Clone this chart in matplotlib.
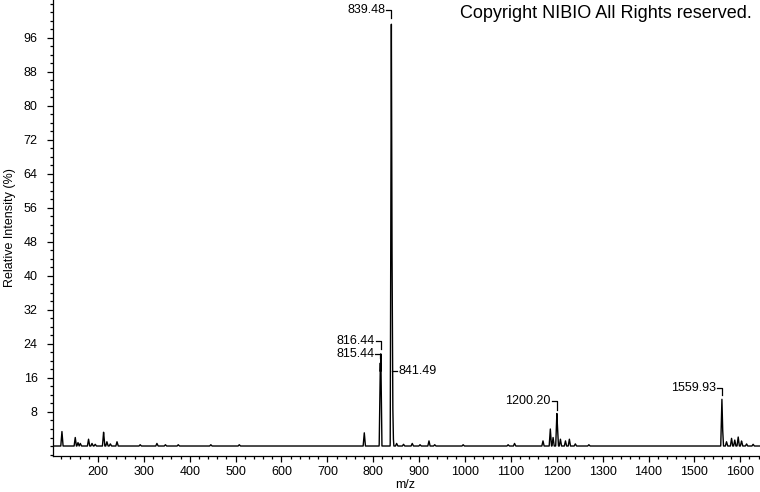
import matplotlib
matplotlib.use("Agg")
import matplotlib.pyplot as plt
import numpy as np

plt.rcParams['font.family'] = ['Liberation Sans', 'DejaVu Sans']

# peak list (m/z, relative intensity %)
peak_mz = [121.5, 150.5, 156.5, 161.5, 179.5, 187, 194, 212.3, 219.5, 227, 241.5,
           292, 328.5, 347, 375, 446, 508,
           780.5, 815.44, 816.44, 839.48, 840.48, 841.49, 842.5,
           851, 866, 885, 902, 921.5, 934, 996, 1094, 1108,
           1170, 1186, 1192, 1200.20, 1201.2, 1208, 1219, 1227.5, 1240.5, 1270,
           1559.93, 1560.9, 1570, 1581, 1588, 1595.4, 1602.8, 1613.7, 1628]
peak_int = [3.4, 2.0, 0.8, 0.6, 1.6, 0.6, 0.4, 3.3, 1.0, 0.5, 1.0,
            0.3, 0.6, 0.3, 0.3, 0.3, 0.3,
            3.1, 20.0, 22.2, 100.0, 57.0, 17.5, 4.0,
            0.6, 0.4, 0.6, 0.3, 1.2, 0.3, 0.3, 0.3, 0.6,
            1.2, 4.0, 2.0, 7.8, 5.4, 1.6, 1.2, 1.6, 0.5, 0.3,
            11.3, 5.5, 1.0, 1.8, 1.4, 2.2, 1.2, 0.5, 0.4]

# labelled peaks: text, m/z, peak height, label height, side
label_txt = ['839.48', '816.44', '815.44', '841.49', '1200.20', '1559.93']
label_mz = [839.48, 816.44, 815.44, 841.49, 1200.20, 1559.93]
label_top = [100.0, 22.2, 20.0, 17.5, 7.8, 11.3]
label_y = [102.6, 24.7, 21.6, 17.6, 10.6, 13.6]
label_side = ['left', 'left', 'left', 'right', 'left', 'left']

x_min, x_max = 102, 1643

# build a stick-like profile from the peak list
grid = np.arange(x_min, x_max, 0.25)
profile = np.zeros_like(grid)
half_w = 2.5
for m, h in zip(peak_mz, peak_int):
    tri = h * np.clip(1 - np.abs(grid - m) / half_w, 0, None)
    profile = np.maximum(profile, tri)

fig = plt.figure(figsize=(7.6, 4.92), dpi=100)
ax = fig.add_axes([53 / 760, 36 / 492, 707 / 760, 456 / 492])

ax.plot(grid, profile, color='black', lw=1.0)

for txt, m, top, ly, side in zip(label_txt, label_mz, label_top, label_y, label_side):
    if side == 'left':
        ax.plot([m - 11, m, m], [ly, ly, top + 0.7], color='black', lw=0.9)
        ax.text(m - 13, ly, txt, ha='right', va='center', fontsize=9)
    else:
        ax.plot([m, m + 11], [ly, ly], color='black', lw=0.9)
        ax.text(m + 13, ly, txt, ha='left', va='center', fontsize=9)

ax.set_xlim(x_min, x_max)
ax.set_ylim(-2.35, 104.9)

ax.set_xticks(np.arange(200, 1601, 100))
ax.set_xticks(np.arange(120, 1641, 20), minor=True)
ax.set_yticks(np.arange(8, 97, 8))
ax.set_yticks(np.arange(-2, 105, 2), minor=True)

ax.tick_params(axis='both', which='major', labelsize=9, direction='out', length=4, width=0.9)
ax.tick_params(axis='both', which='minor', direction='out', length=2.5, width=0.9)
ax.tick_params(axis='x', which='major', pad=3)
ax.tick_params(axis='y', which='major', pad=7)

for side in ['top', 'right']:
    ax.spines[side].set_visible(False)
ax.spines['left'].set_linewidth(0.9)
ax.spines['bottom'].set_linewidth(0.9)

ax.set_xlabel('m/z', fontsize=9)
ax.set_ylabel('Relative Intensity (%)', fontsize=9)
ax.xaxis.set_label_coords(0.498, -0.05)
ax.yaxis.set_label_coords(-0.052, 0.5)

fig.text(752 / 760, 1 - 14 / 492, 'Copyright NIBIO All Rights reserved.',
         ha='right', va='center', fontsize=13)

fig.savefig('out.png', dpi=100)
